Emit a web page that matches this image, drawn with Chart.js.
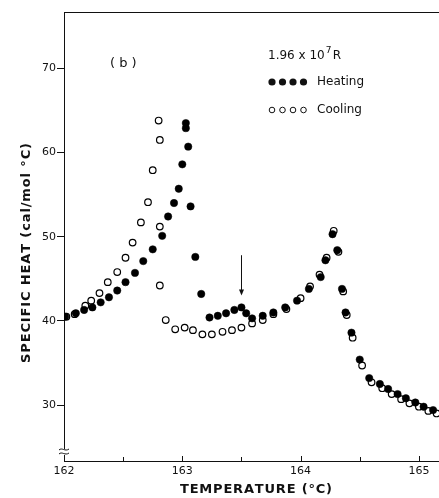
<!DOCTYPE html>
<html>
<head>
<meta charset="utf-8">
<script src="https://cdn.jsdelivr.net/npm/chart.js@4.4.0/dist/chart.umd.min.js"></script>
<style>
  html, body { margin: 0; padding: 0; background: #fff; overflow: hidden; }
  canvas { display: block; }
</style>
</head>
<body>
<canvas id="myChart" width="439" height="498"></canvas>
<script>
// heating run (filled circles)
const heatT = [162.01, 162.10, 162.17, 162.24, 162.31, 162.38, 162.45, 162.52, 162.60, 162.67,
  162.75, 162.83, 162.88, 162.93, 162.97, 163.00, 163.03, 163.03, 163.05, 163.07,
  163.11, 163.16, 163.23, 163.30, 163.37, 163.44, 163.50, 163.54, 163.59, 163.68,
  163.77, 163.87, 163.97, 164.07, 164.17, 164.21, 164.27, 164.31, 164.35, 164.38,
  164.43, 164.50, 164.58, 164.67, 164.74, 164.82, 164.89, 164.97, 165.04, 165.12];
const heatCp = [40.5, 40.9, 41.3, 41.6, 42.2, 42.8, 43.6, 44.6, 45.7, 47.1,
  48.5, 50.1, 52.4, 54.0, 55.7, 58.6, 62.9, 63.5, 60.7, 53.6,
  47.6, 43.2, 40.4, 40.6, 40.9, 41.3, 41.6, 40.9, 40.3, 40.6,
  41.0, 41.6, 42.4, 43.8, 45.2, 47.2, 50.3, 48.4, 43.8, 41.0,
  38.6, 35.4, 33.2, 32.5, 31.9, 31.3, 30.8, 30.3, 29.8, 29.4];

// cooling run (open circles)
const coolT = [162.02, 162.09, 162.18, 162.23, 162.30, 162.37, 162.45, 162.52, 162.58, 162.65,
  162.71, 162.75, 162.81, 162.80, 162.81, 162.81, 162.86, 162.94, 163.02, 163.09,
  163.17, 163.25, 163.34, 163.42, 163.50, 163.59, 163.68, 163.77, 163.88, 164.00,
  164.08, 164.16, 164.22, 164.28, 164.32, 164.36, 164.39, 164.44, 164.52, 164.60,
  164.69, 164.77, 164.85, 164.92, 165.00, 165.08, 165.15];
const coolCp = [40.5, 40.8, 41.8, 42.4, 43.3, 44.6, 45.8, 47.5, 49.3, 51.7,
  54.1, 57.9, 61.5, 63.8, 51.2, 44.2, 40.1, 39.0, 39.2, 38.9,
  38.4, 38.4, 38.7, 38.9, 39.2, 39.7, 40.1, 40.8, 41.4, 42.7,
  44.1, 45.5, 47.5, 50.7, 48.2, 43.5, 40.7, 38.0, 34.7, 32.7,
  32.0, 31.3, 30.7, 30.2, 29.8, 29.3, 29.0];

const xTicks = [162, 163, 164, 165];
const xMinorTicks = [162.5, 163.5, 164.5];
const yTicks = [30, 40, 50, 60, 70];

const xRange = [162, 165.17];
const yRange = [23.35, 76.7];

// arrow marking the small anomaly
const arrowAt = 163.5;
const arrowFrom = 47.8;
const arrowTo = 43.0;

const FONT = '"DejaVu Sans", sans-serif';

function toXY(xs, ys) {
  return xs.map((x, i) => ({ x: x, y: ys[i] }));
}

function drawSpaced(ctx, text, cx, cy, width) {
  // spread characters so the string fills the given width
  const chars = text.split('');
  const raw = chars.map(c => ctx.measureText(c).width);
  const total = raw.reduce((a, b) => a + b, 0);
  const gap = chars.length > 1 ? (width - total) / (chars.length - 1) : 0;
  let x = cx - width / 2;
  ctx.textAlign = 'left';
  chars.forEach((c, i) => {
    ctx.fillText(c, x, cy);
    x += raw[i] + gap;
  });
}

const decor = {
  id: 'decor',
  afterDraw(chart) {
    const ctx = chart.ctx;
    const a = chart.chartArea;
    const xs = chart.scales.x;
    const ys = chart.scales.y;
    ctx.save();
    ctx.strokeStyle = '#111';
    ctx.fillStyle = '#111';
    ctx.lineWidth = 1;

    // top frame line
    ctx.beginPath();
    ctx.moveTo(a.left, a.top + 0.5);
    ctx.lineTo(chart.width, a.top + 0.5);
    ctx.stroke();

    // inward ticks on the temperature axis
    ctx.beginPath();
    xTicks.forEach(v => {
      const px = Math.round(xs.getPixelForValue(v)) + 0.5;
      ctx.moveTo(px, a.bottom);
      ctx.lineTo(px, a.bottom - 5);
    });
    xMinorTicks.forEach(v => {
      const px = Math.round(xs.getPixelForValue(v)) + 0.5;
      ctx.moveTo(px, a.bottom);
      ctx.lineTo(px, a.bottom - 4);
    });
    ctx.stroke();

    // axis break
    ctx.fillStyle = '#fff';
    ctx.fillRect(a.left - 4, a.bottom - 12, 8, 6);
    ctx.strokeStyle = '#111';
    ctx.beginPath();
    [a.bottom - 12, a.bottom - 8].forEach(y0 => {
      ctx.moveTo(a.left - 5, y0 + 1);
      ctx.bezierCurveTo(a.left - 2, y0 - 2, a.left + 1, y0 + 3, a.left + 5, y0);
    });
    ctx.stroke();

    // arrow
    const ax = Math.round(xs.getPixelForValue(arrowAt)) + 0.5;
    const ay1 = ys.getPixelForValue(arrowFrom);
    const ay2 = ys.getPixelForValue(arrowTo);
    ctx.beginPath();
    ctx.moveTo(ax, ay1);
    ctx.lineTo(ax, ay2 - 4);
    ctx.stroke();
    ctx.fillStyle = '#111';
    ctx.beginPath();
    ctx.moveTo(ax - 2.5, ay2 - 6);
    ctx.lineTo(ax + 2.5, ay2 - 6);
    ctx.lineTo(ax, ay2);
    ctx.closePath();
    ctx.fill();

    // texts
    ctx.fillStyle = '#111';
    ctx.textBaseline = 'middle';
    ctx.font = '13px ' + FONT;
    ctx.textAlign = 'left';
    ctx.fillText('( b )', 110, 64);

    ctx.font = '12px ' + FONT;
    ctx.fillText('1.96 x 10', 268, 56);
    const w = ctx.measureText('1.96 x 10').width;
    ctx.font = '9px ' + FONT;
    ctx.fillText('7', 268 + w + 1, 51);
    ctx.font = '12px ' + FONT;
    ctx.fillText('R', 268 + w + 8, 56);

    for (let i = 0; i < 4; i++) {
      const cx = 272 + i * 10.5;
      ctx.beginPath();
      ctx.arc(cx, 82, 3.6, 0, Math.PI * 2);
      ctx.fill();
      ctx.beginPath();
      ctx.arc(cx, 110, 2.8, 0, Math.PI * 2);
      ctx.lineWidth = 1;
      ctx.stroke();
    }
    ctx.fillText('Heating', 317, 82);
    ctx.fillText('Cooling', 317, 110);

    // axis titles
    ctx.font = 'bold 13px ' + FONT;
    drawSpaced(ctx, 'TEMPERATURE (\u00B0C)', 256, 490, 152);
    ctx.save();
    ctx.translate(27, 253);
    ctx.rotate(-Math.PI / 2);
    drawSpaced(ctx, 'SPECIFIC HEAT (cal/mol \u00B0C)', 0, 0, 220);
    ctx.restore();

    ctx.restore();
  }
};

const ctx = document.getElementById('myChart').getContext('2d');
const myChart = new Chart(ctx, {
  type: 'scatter',
  data: {
    datasets: [{
      label: 'Heating',
      data: toXY(heatT, heatCp),
      pointRadius: 3.7,
      pointBackgroundColor: '#000',
      pointBorderColor: '#000',
      pointBorderWidth: 0.5
    }, {
      label: 'Cooling',
      data: toXY(coolT, coolCp),
      pointRadius: 3.3,
      pointBackgroundColor: '#fff',
      pointBorderColor: '#000',
      pointBorderWidth: 1.2
    }]
  },
  options: {
    responsive: false,
    animation: false,
    layout: { autoPadding: false, padding: { top: 12, right: 0, left: 0, bottom: 0 } },
    plugins: {
      legend: { display: false },
      tooltip: { enabled: false }
    },
    scales: {
      x: {
        type: 'linear',
        min: xRange[0],
        max: xRange[1],
        afterBuildTicks: (scale) => { scale.ticks = xTicks.map(v => ({ value: v })); },
        afterFit: (scale) => { scale.height = 37; },
        grid: { display: false, drawTicks: false },
        border: { display: true, color: '#111', width: 1 },
        ticks: {
          color: '#111',
          padding: 4,
          maxRotation: 0,
          font: { family: FONT, size: 11 }
        }
      },
      y: {
        type: 'linear',
        min: yRange[0],
        max: yRange[1],
        afterBuildTicks: (scale) => { scale.ticks = yTicks.map(v => ({ value: v })); },
        afterFit: (scale) => { scale.width = 64; },
        grid: { drawOnChartArea: false, drawTicks: true, tickLength: 7, color: '#111' },
        border: { display: true, color: '#111', width: 1 },
        ticks: {
          color: '#111',
          padding: 1,
          font: { family: FONT, size: 11 }
        }
      }
    }
  },
  plugins: [decor]
});
</script>
</body>
</html>
